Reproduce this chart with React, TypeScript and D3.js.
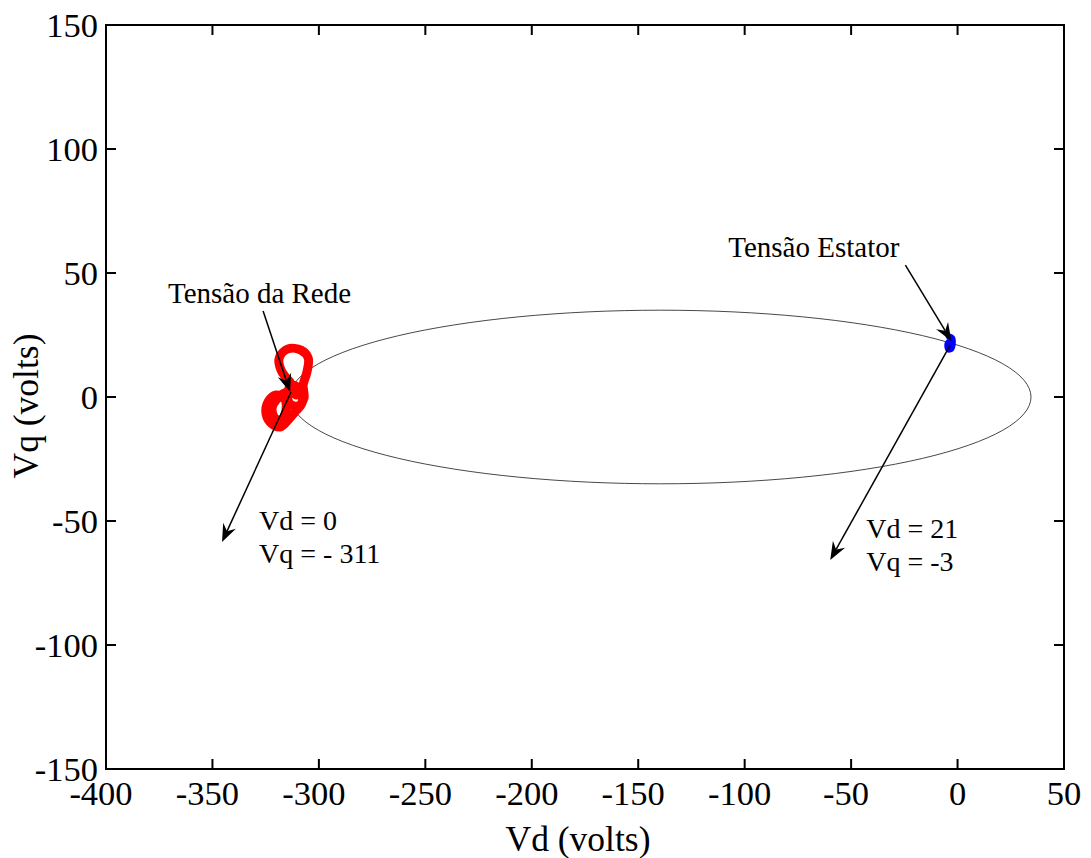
import React from "react";
import * as d3 from "d3";

const W = 1091;
const H = 858;

const xDomain: [number, number] = [-400, 50];
const yDomain: [number, number] = [-150, 150];
const xTicks = [-400, -350, -300, -250, -200, -150, -100, -50, 0, 50];
const yTicks = [-150, -100, -50, 0, 50, 100, 150];

// ellipse (Vd, Vq) center and radii
const ellipseCenter = [-139.5, 0];
const ellipseRadii = [174, 35];

// grid voltage trajectory
const redVd = [-313.5, -317.8, -318.6, -314.5, -308.4, -305.0, -305.6, -307.4, -307.0, -309.8, -313.5, -314.9, -312.6, -308.8, -307.9, -311.2, -314.5, -318.2, -322.0, -324.8, -323.9, -320.1, -316.4, -315.4, -317.3, -320.6, -322.0, -319.2, -314.5, -310.7];
const redVq = [6.0, 10.9, 15.9, 19.4, 18.9, 15.7, 10.1, 4.8, -0.4, -3.6, -2.8, 1.2, 4.8, 2.8, -2.4, -6.0, -9.3, -12.1, -10.9, -6.9, -2.0, 0.8, -0.4, -5.2, -9.3, -8.5, -4.4, -0.4, 2.0, 0.8];

// stator voltage trajectory
const blueVd = [-4.5, -2.4, -2.0, -2.8, -4.5, -5.0, -3.6];
const blueVq = [24.6, 24.0, 21.5, 19.2, 19.0, 21.5, 23.2];

// annotations [x1, y1, x2, y2] (arrow tip at x2,y2)
const arrows = [
  [-326.2, 34.7, -313.5, 2.0],
  [-313.1, 2.0, -345.5, -58.5],
  [-24.5, 53.2, -2.9, 22.6],
  [-3.4, 21.0, -59.8, -65.7],
];
const labelText = ["Tensão da Rede", "Vd = 0", "Vq = - 311", "Tensão Estator", "Vd = 21", "Vq = -3"];
const labelVd = [-370.9, -328.1, -328.1, -107.7, -42.9, -42.9];
const labelVq = [37.9, -53.6, -66.9, 56.5, -56.9, -70.2];
const labelSize = [29, 28, 28, 29, 28, 28];

const FONT = "'Liberation Serif', Tinos, 'Times New Roman', Times, 'Nimbus Roman', 'Nimbus Roman No9 L', FreeSerif, serif";

export default function App() {
  const left = 106, right = 1064, top = 25, bottom = 769;
  const x = d3.scaleLinear().domain(xDomain).range([left, right]);
  const y = d3.scaleLinear().domain(yDomain).range([bottom, top]);
  const tickLen = 10;

  const redLine = d3
    .line<number>()
    .x((_, i) => x(redVd[i]))
    .y((_, i) => y(redVq[i]))
    .curve(d3.curveCatmullRom.alpha(0.5));
  const blueLine = d3
    .line<number>()
    .x((_, i) => x(blueVd[i]))
    .y((_, i) => y(blueVq[i]))
    .curve(d3.curveCatmullRomClosed.alpha(0.5));

  const arrowHead = (x1: number, y1: number, x2: number, y2: number) => {
    const ang = Math.atan2(y2 - y1, x2 - x1);
    const L = 18, Wd = 7, back = 12;
    const c = Math.cos(ang), s = Math.sin(ang);
    const p = (a: number, b: number) => [x2 + a * c - b * s, y2 + a * s + b * c];
    const pts = [p(0, 0), p(-L, -Wd), p(-back, 0), p(-L, Wd)];
    return pts.map((q) => q.join(",")).join(" ");
  };

  return (
    <div style={{ position: "absolute", left: 0, top: 0 }}>
      <svg width={W} height={H} style={{ display: "block", background: "#fff" }}>
        <rect x={0} y={0} width={W} height={H} fill="#fff" />
        <ellipse
          cx={x(ellipseCenter[0])}
          cy={y(ellipseCenter[1])}
          rx={x(ellipseCenter[0] + ellipseRadii[0]) - x(ellipseCenter[0])}
          ry={y(ellipseCenter[1]) - y(ellipseCenter[1] + ellipseRadii[1])}
          fill="none"
          stroke="#333"
          strokeWidth={0.9}
        />
        <path
          d={redLine(redVd) || ""}
          fill="none"
          stroke="#ff0000"
          strokeWidth={9}
          strokeLinejoin="round"
          strokeLinecap="round"
        />
        <path
          d={blueLine(blueVd) || ""}
          fill="#0000ff"
          stroke="#0000ff"
          strokeWidth={5}
          strokeLinejoin="round"
        />
        {arrows.map((a, i) => {
          const x1 = x(a[0]), y1 = y(a[1]), x2 = x(a[2]), y2 = y(a[3]);
          const ang = Math.atan2(y2 - y1, x2 - x1);
          const ex = x2 - 12 * Math.cos(ang), ey = y2 - 12 * Math.sin(ang);
          return (
            <g key={i}>
              <line x1={x1} y1={y1} x2={ex} y2={ey} stroke="#000" strokeWidth={1.5} />
              <polygon points={arrowHead(x1, y1, x2, y2)} fill="#000" />
            </g>
          );
        })}
        {labelText.map((t, i) => (
          <text
            key={i}
            x={x(labelVd[i])}
            y={y(labelVq[i])}
            fontFamily={FONT}
            fontSize={labelSize[i]}
            fill="#000"
          >
            {t}
          </text>
        ))}
        <rect x={left} y={top} width={right - left} height={bottom - top} fill="none" stroke="#000" strokeWidth={2} />
        {xTicks.map((t) => (
          <g key={"x" + t}>
            <line x1={x(t)} x2={x(t)} y1={bottom} y2={bottom - tickLen} stroke="#000" strokeWidth={2} />
            <line x1={x(t)} x2={x(t)} y1={top} y2={top + tickLen} stroke="#000" strokeWidth={2} />
            <text
              x={x(t) + (t < 0 ? -5 : 0)}
              y={805}
              textAnchor="middle"
              fontFamily={FONT}
              fontSize={34.5}
              fill="#000"
            >
              {t}
            </text>
          </g>
        ))}
        {yTicks.map((t) => (
          <g key={"y" + t}>
            <line x1={left} x2={left + tickLen} y1={y(t)} y2={y(t)} stroke="#000" strokeWidth={2} />
            <line x1={right} x2={right - tickLen} y1={y(t)} y2={y(t)} stroke="#000" strokeWidth={2} />
            <text
              x={98}
              y={y(t) + 12}
              textAnchor="end"
              fontFamily={FONT}
              fontSize={34.5}
              fill="#000"
            >
              {t}
            </text>
          </g>
        ))}
        <text x={578} y={851} textAnchor="middle" fontFamily={FONT} fontSize={35.5} fill="#000">
          Vd (volts)
        </text>
        <text
          transform={`translate(38,406) rotate(-90)`}
          textAnchor="middle"
          fontFamily={FONT}
          fontSize={35.5}
          fill="#000"
        >
          Vq (volts)
        </text>
      </svg>
    </div>
  );
}
